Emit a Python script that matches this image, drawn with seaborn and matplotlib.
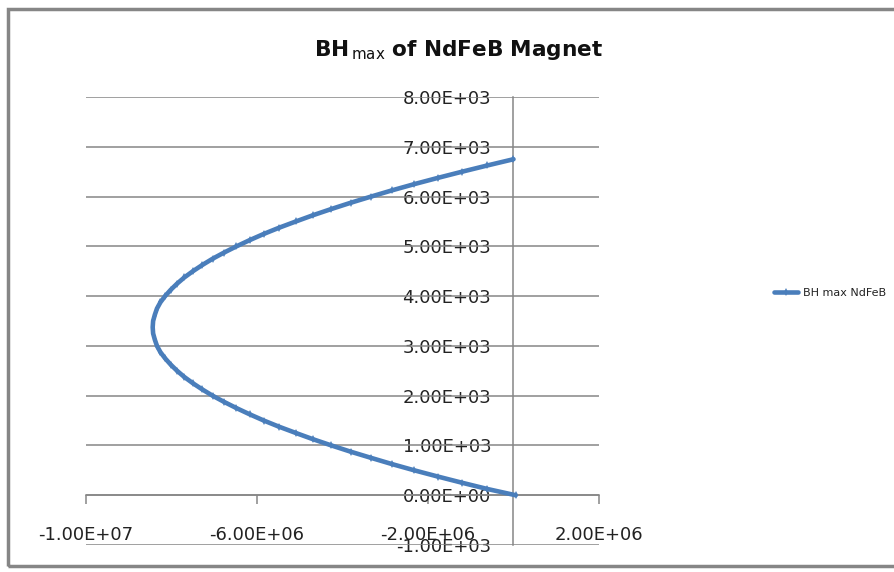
import matplotlib
matplotlib.use("Agg")
import matplotlib.pyplot as plt
import seaborn as sns
import pandas as pd
from matplotlib.patches import Rectangle

# BH product (x) against flux density (y) along the demagnetisation curve
flux_density = [0, 125, 250, 375, 500, 625, 750, 875, 1000, 1125, 1250, 1375,
                1500, 1625, 1750, 1875, 2000, 2125, 2250, 2375, 2500, 2625,
                2750, 2875, 3000, 3125, 3250, 3375, 3500, 3625, 3750, 3875,
                4000, 4125, 4250, 4375, 4500, 4625, 4750, 4875, 5000, 5125,
                5250, 5375, 5500, 5625, 5750, 5875, 6000, 6125, 6250, 6375,
                6500, 6625, 6750]
bh_product = [0.05e6, -0.61e6, -1.20e6, -1.77e6, -2.32e6, -2.84e6, -3.33e6,
              -3.81e6, -4.26e6, -4.69e6, -5.09e6, -5.48e6, -5.84e6, -6.17e6,
              -6.48e6, -6.77e6, -7.04e6, -7.28e6, -7.50e6, -7.70e6, -7.87e6,
              -8.02e6, -8.15e6, -8.26e6, -8.34e6, -8.39e6, -8.43e6, -8.44e6,
              -8.43e6, -8.39e6, -8.34e6, -8.26e6, -8.15e6, -8.02e6, -7.87e6,
              -7.70e6, -7.50e6, -7.28e6, -7.04e6, -6.77e6, -6.48e6, -6.17e6,
              -5.84e6, -5.48e6, -5.09e6, -4.69e6, -4.26e6, -3.81e6, -3.33e6,
              -2.84e6, -2.32e6, -1.77e6, -1.20e6, -0.61e6, 0.0]
series_name = "BH max NdFeB"
x_ticks = [-1.0e7, -6.0e6, -2.0e6, 2.0e6]
y_ticks = [-1000, 0, 1000, 2000, 3000, 4000, 5000, 6000, 7000, 8000]

sns.set_theme(style="white")
plt.rcParams["font.family"] = ["DejaVu Sans"]

W, H = 895, 572
fig = plt.figure(figsize=(W / 100, H / 100), dpi=100)
ax = fig.add_axes([86 / W, 1 - 545 / H, (599 - 86) / W, (545 - 97) / H])

grey = "#868686"
blue = "#4A7EBB"

df = pd.DataFrame({"BH": bh_product, "B": flux_density})
sns.lineplot(data=df, x="BH", y="B", sort=False, estimator=None,
             errorbar=None, ax=ax, color=blue, linewidth=3.3, marker="d",
             markersize=3.8, markeredgewidth=0, label=series_name, zorder=3)

ax.set_xlim(-1.0e7, 2.0e6)
ax.set_ylim(-1000, 8000)

# horizontal gridlines
for v in y_ticks:
    ax.axhline(v, color=grey, linewidth=1.1, zorder=1)

for s in ["top", "right"]:
    ax.spines[s].set_visible(False)
ax.spines["left"].set_position(("data", 0))
ax.spines["bottom"].set_position(("data", 0))
for s in ["left", "bottom"]:
    ax.spines[s].set_color(grey)
    ax.spines[s].set_linewidth(1.1)

ax.set_xticks(x_ticks)
ax.set_xticklabels([f"{v:.2E}" for v in x_ticks])
ax.set_yticks(y_ticks)
ax.set_yticklabels([f"{v:.2E}" for v in y_ticks])
ax.tick_params(axis="x", direction="out", length=6.5, width=1.1, color=grey,
               pad=16, labelsize=13, labelcolor="#222222", bottom=True)
ax.tick_params(axis="y", length=0, pad=16, labelsize=13,
               labelcolor="#222222", left=True)
ax.set_xlabel("")
ax.set_ylabel("")

# title with subscript
fig.text(459 / W, 1 - 56 / H,
         r"$\mathbf{BH}_{\,\mathrm{max}}\ \mathbf{of\ NdFeB\ Magnet}$",
         ha="center", va="baseline", fontsize=15.6, color="#111111")

leg = ax.legend(loc="center left", bbox_to_anchor=(774 / W, 1 - 293 / H),
                bbox_transform=fig.transFigure, frameon=False,
                handlelength=2.2, handletextpad=0.4, fontsize=8.0,
                borderaxespad=0, borderpad=0)
for t in leg.get_texts():
    t.set_color("#222222")

# chart area border
fig.patches.append(Rectangle((8 / W, 1 - 566 / H), 1.2, (566 - 9) / H,
                             transform=fig.transFigure, fill=False,
                             edgecolor=grey, linewidth=2.5))

fig.savefig("out.png", dpi=100)
